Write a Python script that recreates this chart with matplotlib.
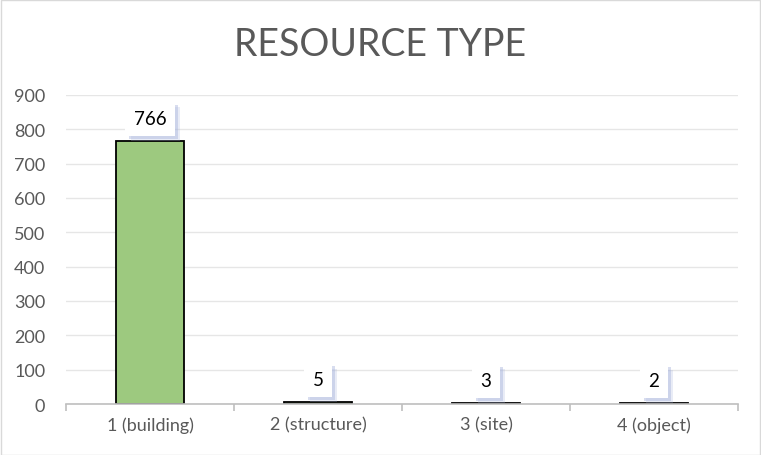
import numpy as np
from matplotlib import pyplot as plt
from matplotlib.patches import Rectangle
import matplotlib.patheffects as pe

categorias = ["1 (building)", "2 (structure)", "3 (site)", "4 (object)"]
valores = [766, 5, 3, 2]
yticks = [0, 100, 200, 300, 400, 500, 600, 700, 800, 900]

plt.rcParams['font.family'] = ['Lato', 'DejaVu Sans']

fig = plt.figure(figsize=(7.61, 4.56), dpi=100)
fig.patches.append(Rectangle((0.001, 0.001), 0.998, 0.996, transform=fig.transFigure,
                             fill=False, edgecolor='#d9d9d9', linewidth=1))

W, H = 761, 456
ax = fig.add_axes([66 / W, 1 - 405 / H, (738 - 66) / W, (405 - 96) / H])

x = np.arange(len(categorias))
ax.bar(x, valores, width=0.40, color='#9dc97f', edgecolor='black', linewidth=1.3, zorder=3)

ax.set_xlim(-0.5, len(categorias) - 0.5)
ax.set_ylim(0, 900)
ax.set_yticks(yticks)
ax.set_yticklabels([str(v) for v in yticks])
ax.grid(axis='y', color='#e6e6e6', linewidth=1, zorder=0)

ax.set_xticks(x)
ax.set_xticklabels(categorias)
ax.set_xticks(np.arange(len(categorias) + 1) - 0.5, minor=True)
ax.tick_params(axis='x', which='major', length=0, pad=9, labelsize=13, labelcolor='#595959')
ax.tick_params(axis='x', which='minor', length=5, color='#bfbfbf', width=1.2)
ax.tick_params(axis='y', length=0, pad=15, labelsize=13, labelcolor='#595959')

for s in ['top', 'right', 'left']:
    ax.spines[s].set_visible(False)
ax.spines['bottom'].set_color('#bfbfbf')
ax.spines['bottom'].set_linewidth(1.2)
ax.spines['bottom'].set_zorder(4)

# rotulos com caixa branca e sombra difusa
sombra = [pe.SimplePatchShadow(offset=(4, -4), shadow_rgbFace='#a9b5dd', alpha=0.25),
          pe.SimplePatchShadow(offset=(2.5, -2.5), shadow_rgbFace='#a9b5dd', alpha=0.45),
          pe.Normal()]
for i in range(len(valores)):
    t = ax.annotate(str(valores[i]), (x[i], valores[i]), xytext=(0, 10), textcoords='offset points',
                    ha='center', va='bottom', fontsize=13.5, color='black',
                    bbox=dict(boxstyle='square,pad=0.45', facecolor='white', edgecolor='none'),
                    zorder=6)
    t.get_bbox_patch().set_path_effects(sombra)

fig.text(0.5, 1 - 45 / H, "RESOURCE TYPE", ha='center', va='center',
         fontsize=27, color='#595959')

plt.savefig('out.png', dpi=100)
